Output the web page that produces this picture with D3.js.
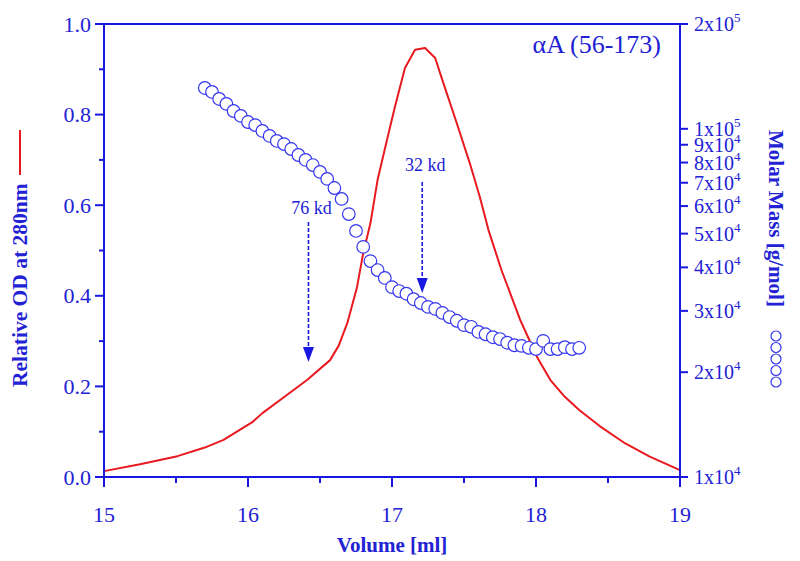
<!DOCTYPE html>
<html>
<head>
<meta charset="utf-8">
<script src="https://cdn.jsdelivr.net/npm/d3@7/dist/d3.min.js"></script>
<style>
  body { margin: 0; background: #fff; }
  svg { display: block; font-family: "Liberation Serif", "Times New Roman", serif; }
</style>
</head>
<body>
<svg id="chart" width="800" height="561"></svg>
<script>
// ---- Data ----
const odVolume = [15.00, 15.25, 15.51, 15.70, 15.83, 16.03, 16.10, 16.27, 16.41, 16.57, 16.63, 16.69, 16.757, 16.80, 16.85, 16.90, 16.965, 17.02, 17.09, 17.16, 17.23, 17.30, 17.35, 17.45, 17.54, 17.61, 17.67, 17.76, 17.89, 17.96, 18.01, 18.10, 18.20, 18.30, 18.44, 18.62, 18.79, 19.00];
const odValue  = [0.013, 0.028, 0.046, 0.065, 0.082, 0.121, 0.141, 0.181, 0.214, 0.258, 0.290, 0.340, 0.419, 0.494, 0.560, 0.656, 0.744, 0.817, 0.903, 0.943, 0.947, 0.925, 0.876, 0.781, 0.693, 0.618, 0.545, 0.457, 0.347, 0.298, 0.263, 0.214, 0.177, 0.148, 0.113, 0.074, 0.045, 0.015];

const massVolume = [15.70, 15.75, 15.80, 15.85, 15.90, 15.95, 16.00, 16.05, 16.10, 16.15, 16.20, 16.25, 16.30, 16.35, 16.40, 16.45, 16.50, 16.55, 16.60, 16.65, 16.70, 16.75, 16.80, 16.85, 16.90, 16.95, 17.00, 17.05, 17.10, 17.15, 17.20, 17.25, 17.30, 17.35, 17.40, 17.45, 17.50, 17.55, 17.60, 17.65, 17.70, 17.75, 17.80, 17.85, 17.90, 17.95, 18.00, 18.05, 18.10, 18.15, 18.20, 18.25, 18.30];
const massValue  = [131000, 127600, 121800, 117900, 112500, 108900, 104600, 102500, 98600, 95400, 92300, 90400, 87500, 84100, 81400, 78700, 75200, 71800, 67600, 62900, 56900, 50900, 45800, 41700, 39300, 37300, 35100, 34200, 33600, 32400, 31600, 30800, 30400, 29600, 28800, 28100, 27300, 27000, 26100, 25700, 25200, 24900, 24300, 23900, 23800, 23500, 23300, 24600, 23300, 23300, 23600, 23300, 23500];

const xTicks = [15, 16, 17, 18, 19];
const xMinorTicks = [15.5, 16.5, 17.5, 18.5];
const yLeftTicks = [0.0, 0.2, 0.4, 0.6, 0.8, 1.0];
const yLeftMinorTicks = [0.1, 0.3, 0.5, 0.7, 0.9];
const yRightTicks = [
  {v: 1e4, m: "1", e: "4"}, {v: 2e4, m: "2", e: "4"}, {v: 3e4, m: "3", e: "4"},
  {v: 4e4, m: "4", e: "4"}, {v: 5e4, m: "5", e: "4"}, {v: 6e4, m: "6", e: "4"},
  {v: 7e4, m: "7", e: "4"}, {v: 8e4, m: "8", e: "4"}, {v: 9e4, m: "9", e: "4"},
  {v: 1e5, m: "1", e: "5"}, {v: 2e5, m: "2", e: "5"}
];
// annotations: label, volume, OD of label baseline, arrow start, arrow tip
const annotations = [
  {label: "76 kd", v: 16.42, labelOD: 0.580, fromOD: 0.563, toOD: 0.254},
  {label: "32 kd", v: 17.21, labelOD: 0.675, fromOD: 0.651, toOD: 0.406}
];
const titleText = "αA (56-173)";

// ---- Layout ----
const L = 104, R = 680, T = 24, B = 477;
const blue = "#1818e0";
const textBlue = "#2222d4";
const red = "#e8191f";

const svg = d3.select("#chart");
const x = d3.scaleLinear().domain([15, 19]).range([L, R]);
const yL = d3.scaleLinear().domain([0, 1]).range([B, T]);
const yR = d3.scaleLog().domain([1e4, 2e5]).range([B, T]);

// Red OD line
const odData = odVolume.map((v, i) => ({v, y: odValue[i]}));
svg.append("path")
  .datum(odData)
  .attr("fill", "none")
  .attr("stroke", red)
  .attr("stroke-width", 2)
  .attr("stroke-linejoin", "round")
  .attr("d", d3.line().x(d => x(d.v)).y(d => yL(d.y)));

// Annotations
annotations.forEach(a => {
  const ax = x(a.v);
  svg.append("line")
    .attr("x1", ax).attr("x2", ax)
    .attr("y1", yL(a.fromOD)).attr("y2", yL(a.toOD) - 12)
    .attr("stroke", blue).attr("stroke-width", 1.6)
    .attr("stroke-dasharray", "4,2");
  const ty = yL(a.toOD);
  svg.append("path")
    .attr("d", `M${ax - 5.5},${ty - 15} L${ax + 5.5},${ty - 15} L${ax},${ty} Z`)
    .attr("fill", blue);
  svg.append("text")
    .attr("x", ax + 3).attr("y", yL(a.labelOD))
    .attr("text-anchor", "middle")
    .attr("font-size", 18)
    .attr("fill", textBlue)
    .text(a.label);
});

// Mass circles
const massData = massVolume.map((v, i) => ({v, m: massValue[i]}));
svg.append("g").selectAll("circle")
  .data(massData).join("circle")
  .attr("cx", d => x(d.v))
  .attr("cy", d => yR(d.m))
  .attr("r", 6.3)
  .attr("fill", "#fff")
  .attr("stroke", "#3535f0")
  .attr("stroke-width", 1.2);

// Axes frame
const axisG = svg.append("g").attr("stroke", blue).attr("stroke-width", 2);
axisG.append("line").attr("x1", L).attr("x2", R).attr("y1", B).attr("y2", B);
axisG.append("line").attr("x1", L).attr("x2", R).attr("y1", T).attr("y2", T);
axisG.append("line").attr("x1", L).attr("x2", L).attr("y1", T - 1).attr("y2", B + 10);
axisG.append("line").attr("x1", R).attr("x2", R).attr("y1", T - 1).attr("y2", B + 10);

// Bottom ticks
xTicks.forEach(t => {
  axisG.append("line").attr("x1", x(t)).attr("x2", x(t)).attr("y1", B).attr("y2", B + 10);
  svg.append("text").attr("x", x(t)).attr("y", B + 45)
    .attr("text-anchor", "middle").attr("font-size", 22).attr("fill", textBlue)
    .text(t);
});
xMinorTicks.forEach(t => {
  axisG.append("line").attr("x1", x(t)).attr("x2", x(t)).attr("y1", B).attr("y2", B + 6);
});

// Left ticks
yLeftTicks.forEach(t => {
  axisG.append("line").attr("x1", L - 9).attr("x2", L).attr("y1", yL(t)).attr("y2", yL(t));
  svg.append("text").attr("x", L - 13).attr("y", yL(t) + 7.5)
    .attr("text-anchor", "end").attr("font-size", 22).attr("fill", textBlue)
    .text(t.toFixed(1));
});
yLeftMinorTicks.forEach(t => {
  axisG.append("line").attr("x1", L - 5).attr("x2", L).attr("y1", yL(t)).attr("y2", yL(t));
});

// Right ticks (log)
yRightTicks.forEach(t => {
  const ty = yR(t.v);
  axisG.append("line").attr("x1", R).attr("x2", R + 8).attr("y1", ty).attr("y2", ty);
  const tx = svg.append("text").attr("x", R + 14).attr("y", ty + 7)
    .attr("font-size", 20).attr("fill", textBlue);
  tx.append("tspan").text(t.m + "x10");
  tx.append("tspan").attr("dy", -9).attr("font-size", 13).text(t.e);
});

// Axis titles
svg.append("text").attr("x", (L + R) / 2).attr("y", 552)
  .attr("text-anchor", "middle").attr("font-size", 21).attr("font-weight", "bold")
  .attr("fill", textBlue).text("Volume [ml]");

svg.append("text")
  .attr("transform", "translate(27,387) rotate(-90)")
  .attr("font-size", 21.5).attr("font-weight", "bold").attr("fill", textBlue)
  .text("Relative OD at 280nm");
svg.append("line").attr("x1", 20).attr("x2", 20).attr("y1", 175).attr("y2", 130)
  .attr("stroke", red).attr("stroke-width", 2);

svg.append("text")
  .attr("transform", "translate(769,130) rotate(90)")
  .attr("font-size", 21).attr("font-weight", "bold").attr("fill", textBlue)
  .text("Molar Mass [g/mol]");
[0, 1, 2, 3, 4].forEach(i => {
  svg.append("circle").attr("cx", 776).attr("cy", 336 + i * 11.5).attr("r", 5)
    .attr("fill", "none").attr("stroke", "#3535f0").attr("stroke-width", 1.2);
});

// Title
svg.append("text").attr("x", 661).attr("y", 53)
  .attr("text-anchor", "end").attr("font-size", 26).attr("fill", textBlue)
  .text(titleText);
</script>
</body>
</html>
